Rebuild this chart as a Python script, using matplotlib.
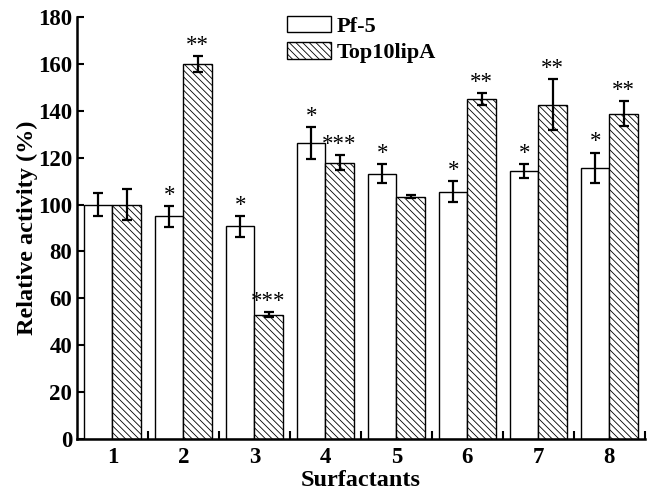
import matplotlib
matplotlib.use('Agg')
import matplotlib.pyplot as plt
import numpy as np

plt.rcParams['font.family'] = ['Liberation Serif', 'DejaVu Serif']
plt.rcParams['font.weight'] = 'bold'
plt.rcParams['hatch.linewidth'] = 0.6

# data
groups = ['1', '2', '3', '4', '5', '6', '7', '8']
pf5 = [100, 95, 90.7, 126.2, 113.1, 105.5, 114.3, 115.6]
pf5_err = [5.0, 4.5, 4.4, 6.8, 4.0, 4.5, 3.1, 6.5]
top10 = [100, 160, 53.1, 117.8, 103.4, 145, 142.6, 138.7]
top10_err = [6.7, 3.4, 1.2, 3.1, 0.6, 2.6, 10.7, 5.4]
pf5_sig = ['', '*', '*', '*', '*', '*', '*', '*']
top10_sig = ['', '**', '***', '***', '', '**', '**', '**']

fig = plt.figure(figsize=(6.52, 4.94), dpi=100)
ax = fig.add_axes([0.118, 0.111, 0.871, 0.855])

x = np.arange(1, len(groups) + 1)
w = 0.4
ax.bar(x - w/2, pf5, w, color='white', edgecolor='black', linewidth=1.0,
       yerr=pf5_err, capsize=3.5, error_kw=dict(elinewidth=1.6, capthick=1.6),
       label='Pf-5')
ax.bar(x + w/2, top10, w, color='white', edgecolor='black', linewidth=1.0,
       hatch='\\\\\\\\\\', yerr=top10_err, capsize=3.5,
       error_kw=dict(elinewidth=1.6, capthick=1.6), label='Top10lipA')

# significance stars
for xi, v, e, s in zip(x - w/2, pf5, pf5_err, pf5_sig):
    if s:
        ax.text(xi, v + e + 2.2, s, ha='center', va='baseline', fontsize=16.5,
                fontweight='normal')
for xi, v, e, s in zip(x + w/2, top10, top10_err, top10_sig):
    if s:
        ax.text(xi, v + e + 2.2, s, ha='center', va='baseline', fontsize=16.5,
                fontweight='normal')

ax.set_xlim(0.5, 8.5)
ax.set_ylim(0, 180)
ax.set_yticks(np.arange(0, 181, 20))
ax.set_xticks(x)
ax.set_xticklabels(groups)
ax.set_xticks(x + 0.5, minor=True)
ax.tick_params(axis='both', direction='in', labelsize=16.5, width=1.5, length=5)
ax.tick_params(axis='x', which='major', length=0, pad=6)
ax.tick_params(axis='x', which='minor', direction='in', length=5.5, width=1.5)
for s in ['top', 'right']:
    ax.spines[s].set_visible(False)
for s in ['left', 'bottom']:
    ax.spines[s].set_linewidth(1.8)

ax.set_xlabel('Surfactants', fontsize=17.5, fontweight='bold', labelpad=1)
ax.set_ylabel('Relative activity (%)', fontsize=17.5, fontweight='bold', labelpad=0)

ax.legend(loc='upper left', bbox_to_anchor=(287/652, 1 - 16/494),
          bbox_transform=fig.transFigure, frameon=False, borderpad=0,
          borderaxespad=0, fontsize=16, handlelength=2.0, handleheight=0.75,
          handletextpad=0.25, labelspacing=0.25)

fig.savefig('out.png', dpi=100)
